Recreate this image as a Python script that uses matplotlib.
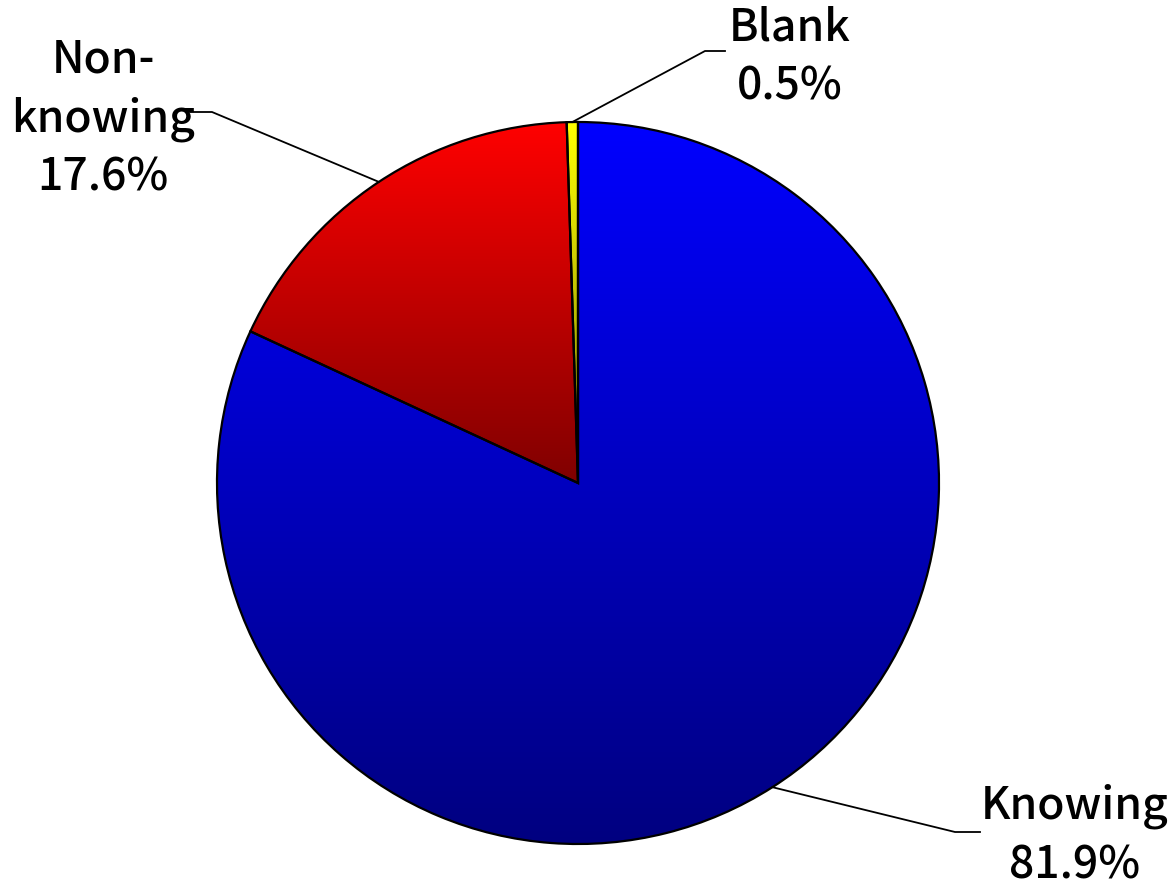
import matplotlib.pyplot as plt
import numpy as np
from matplotlib.colors import LinearSegmentedColormap

labels = ["Knowing", "Non-\nknowing", "Blank"]
shares = [81.9, 17.6, 0.5]
top_colors = ["#0000ff", "#ff0000", "#ffff00"]
bottom_colors = ["#000080", "#800000", "#808000"]

W, H = 1173, 887

# label text centres and leader elbows, in pixels from the top-left corner
label_pos = [(1075, 836), (103, 119), (790, 57)]
elbow_pos = [(955, 833), (212, 113), (705, 52)]
elbow_end = [(980, 833), (190, 113), (725, 52)]


def flip(p):
    return p[0], H - p[1]


fig = plt.figure(figsize=(W / 100, H / 100), dpi=100)
ax = fig.add_axes([0, 0, 1, 1])

cx, cy, r = 578, H - 484, 361

wedges, _ = ax.pie(shares, startangle=90, counterclock=False, radius=r,
                   center=(cx, cy), frame=True,
                   wedgeprops=dict(edgecolor="black", linewidth=1.6))

# vertical gradient per slice, clipped to the wedge outline
for w, top, bot in zip(wedges, top_colors, bottom_colors):
    ext = w.get_path().get_extents(w.get_transform() - ax.transData)
    cmap = LinearSegmentedColormap.from_list("g", [top, bot])
    grad = np.linspace(0, 1, 256).reshape(-1, 1)
    im = ax.imshow(grad, cmap=cmap, aspect="auto",
                   extent=(ext.x0, ext.x1, ext.y0, ext.y1),
                   origin="upper", zorder=1)
    im.set_clip_path(w)
    w.set_facecolor("none")
    w.set_zorder(2)

ax.set_xlim(0, W)
ax.set_ylim(0, H)
ax.set_aspect("equal")
ax.axis("off")

for w, lab, share, lp, ep, ee in zip(wedges, labels, shares, label_pos,
                                     elbow_pos, elbow_end):
    mid = np.deg2rad((w.theta1 + w.theta2) / 2)
    px, py = cx + r * np.cos(mid), cy + r * np.sin(mid)
    ep, ee, lp = flip(ep), flip(ee), flip(lp)
    ax.plot([px, ep[0], ee[0]], [py, ep[1], ee[1]], color="black", lw=1.3,
            zorder=3)
    ax.text(lp[0], lp[1], f"{lab}\n{share:.1f}%", ha="center", va="center",
            fontsize=32, fontweight="medium",
            family=["Noto Sans CJK JP", "DejaVu Sans"],
            linespacing=1.4, zorder=4)

fig.savefig("out.png", dpi=100)
